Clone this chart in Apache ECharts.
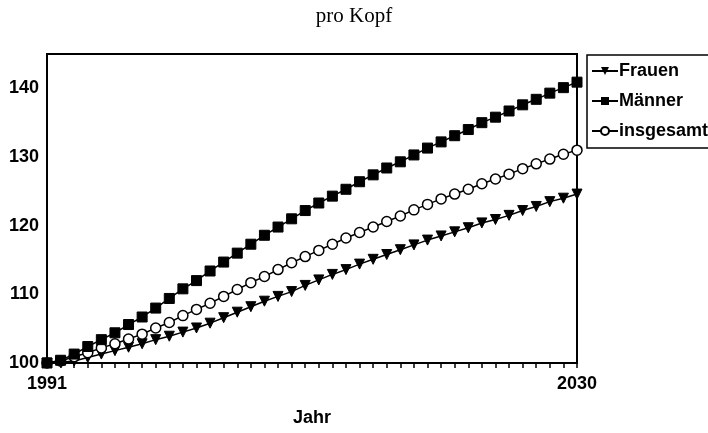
<!DOCTYPE html>
<html>
<head>
<meta charset="utf-8">
<script src="https://cdn.jsdelivr.net/npm/echarts@6/dist/echarts.min.js"></script>
<style>html,body{margin:0;padding:0;background:#fff;}#c{width:708px;height:433px;}</style>
</head>
<body>
<div id="c"></div>
<script>
const years = [];
for (let y = 1991; y <= 2030; y++) years.push(String(y));
const frauen = [100.0,100.1,100.3,100.8,101.3,101.8,102.3,102.8,103.4,103.9,104.5,105.1,105.8,106.6,107.4,108.2,109.0,109.7,110.4,111.3,112.1,112.9,113.6,114.4,115.1,115.8,116.5,117.2,117.9,118.5,119.1,119.7,120.4,120.9,121.5,122.2,122.8,123.5,124.0,124.6];
const maenner = [100.0,100.4,101.3,102.4,103.4,104.4,105.6,106.7,108.0,109.4,110.8,112.0,113.4,114.7,116.0,117.3,118.6,119.8,121.0,122.2,123.3,124.3,125.3,126.4,127.4,128.4,129.3,130.3,131.3,132.2,133.1,134.0,135.0,135.8,136.7,137.6,138.4,139.3,140.1,140.9];
const insgesamt = [100.0,100.3,100.9,101.5,102.2,102.8,103.5,104.2,105.1,105.9,106.9,107.8,108.7,109.7,110.7,111.7,112.6,113.6,114.6,115.5,116.4,117.3,118.2,119.0,119.8,120.6,121.4,122.3,123.1,123.9,124.6,125.3,126.1,126.8,127.5,128.3,129.0,129.7,130.4,131.0];
const seriesNames = ['Frauen','Männer','insgesamt'];

const chart = echarts.init(document.getElementById('c'), null, {renderer:'canvas'});
const font = 'Liberation Sans, Arial, sans-serif';
chart.setOption({
  animation: false,
  backgroundColor: '#fff',
  title: {
    text: 'pro Kopf', left: 'center', top: 1,
    textStyle: {fontFamily: 'Liberation Serif, Times New Roman, serif', fontSize: 21, fontWeight: 'normal', color: '#000'}
  },
  legend: {
    orient: 'vertical', left: 587, top: 55,
    padding: [7, 6, 8, 4], itemGap: 12, itemWidth: 26, itemHeight: 10,
    borderColor: '#000', borderWidth: 1.5,
    textStyle: {fontFamily: font, fontSize: 18, fontWeight: 'bold', color: '#000', padding: [0,0,0,-4]},
    data: seriesNames
  },
  grid: {left: 47, right: 131, top: 54, bottom: 70, show: true, borderColor: '#000', borderWidth: 2, outerBoundsMode: 'none', containLabel: false},
  xAxis: {
    type: 'category', data: years, boundaryGap: false,
    name: 'Jahr', nameLocation: 'middle', nameGap: 46,
    nameTextStyle: {fontFamily: font, fontSize: 18, fontWeight: 'bold', color: '#000'},
    axisLine: {lineStyle: {color: '#000', width: 2}},
    axisTick: {show: true, interval: 0, length: 5, lineStyle: {color: '#000', width: 1.5}},
    axisLabel: {interval: function(i){ return i === 0 || i === years.length - 1; }, fontFamily: font, fontSize: 18, fontWeight: 'bold', color: '#000', margin: 12}
  },
  yAxis: {
    type: 'value', min: 100, max: 145, interval: 10,
    splitLine: {show: false},
    axisLine: {show: true, lineStyle: {color: '#000', width: 2}},
    axisTick: {show: false},
    axisLabel: {showMaxLabel: false, fontFamily: font, fontSize: 18, fontWeight: 'bold', color: '#000', margin: 8}
  },
  series: [
    {name: 'Frauen', type: 'line', data: frauen, symbol: 'triangle', symbolRotate: 180, symbolSize: 10, showAllSymbol: true,
     lineStyle: {color: '#000', width: 1.5}, itemStyle: {color: '#000', borderColor: '#000'}},
    {name: 'insgesamt', type: 'line', data: insgesamt, symbol: 'circle', symbolSize: 10, showAllSymbol: true,
     lineStyle: {color: '#000', width: 1.5}, itemStyle: {color: '#fff', borderColor: '#000', borderWidth: 1.5}},
    {name: 'Männer', type: 'line', data: maenner, symbol: 'rect', symbolSize: 10, showAllSymbol: true,
     lineStyle: {color: '#000', width: 1.5}, itemStyle: {color: '#000', borderColor: '#000'}}
  ]
});
</script>
</body>
</html>
